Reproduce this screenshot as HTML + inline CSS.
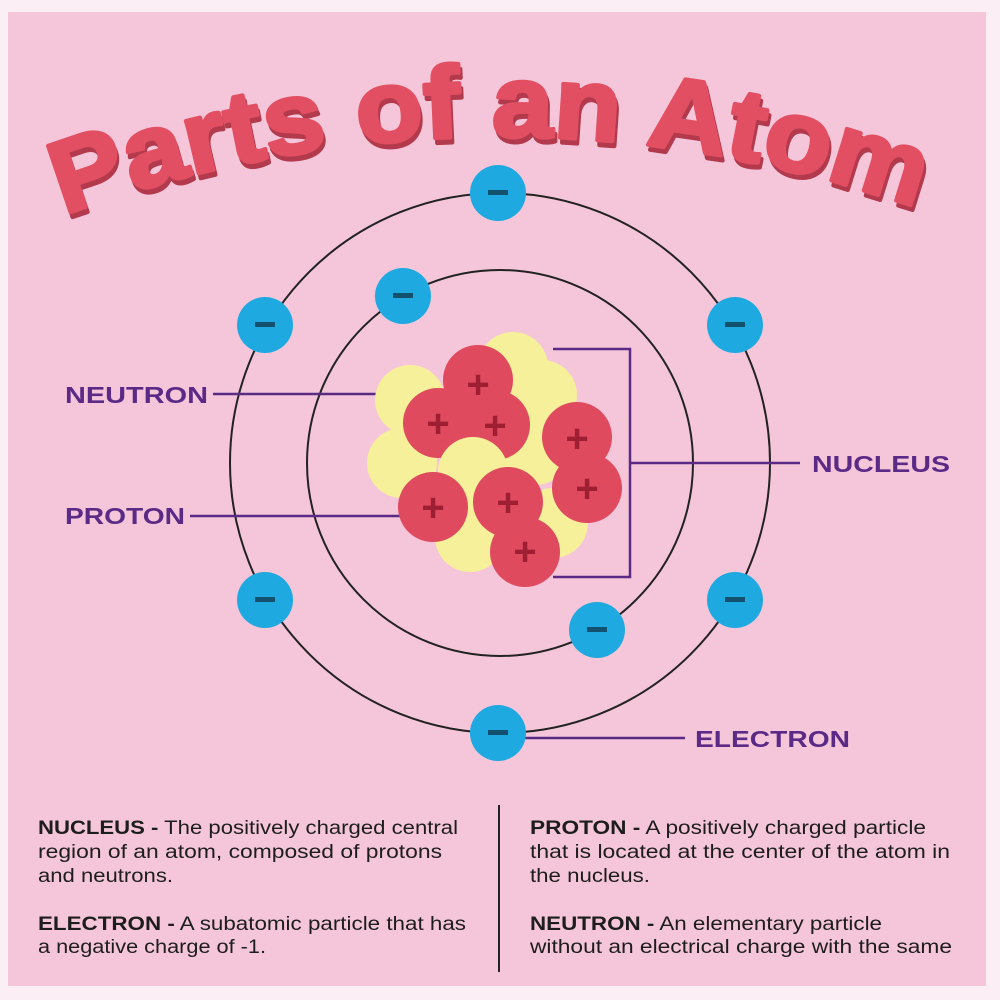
<!DOCTYPE html>
<html><head><meta charset="utf-8"><style>html,body{margin:0;padding:0;background:#fff}svg{display:block}</style></head>
<body>
<svg width="1000" height="1000" viewBox="0 0 1000 1000" xmlns="http://www.w3.org/2000/svg">
<rect x="0" y="0" width="1000" height="1000" fill="#fbeef4"/>
<rect x="8" y="12" width="978" height="974" fill="#f5c6da"/>
<defs>
<path id="arc" d="M 64 215 A 1250 1250 0 0 1 936 215"/>
</defs>
<text font-family="Liberation Sans, sans-serif" font-weight="bold" font-size="102" fill="#b23a4c" stroke="#b23a4c" stroke-width="4" stroke-linejoin="round" transform="translate(2,5)"><textPath href="#arc" startOffset="0" textLength="870" lengthAdjust="spacingAndGlyphs">Parts of an Atom</textPath></text>
<text font-family="Liberation Sans, sans-serif" font-weight="bold" font-size="102" fill="#e24f62" stroke="#e24f62" stroke-width="4" stroke-linejoin="round"><textPath href="#arc" startOffset="0" textLength="870" lengthAdjust="spacingAndGlyphs">Parts of an Atom</textPath></text>

<circle cx="500" cy="463" r="270" fill="none" stroke="#222" stroke-width="2"/>
<circle cx="500" cy="463" r="193" fill="none" stroke="#222" stroke-width="2"/>

<g stroke="#5b2a86" stroke-width="2.5" fill="none">
<polyline points="553,349 630,349 630,577 553,577"/>
<line x1="630" y1="463" x2="800" y2="463"/>
<line x1="213" y1="394" x2="397" y2="394"/>
<line x1="190" y1="516" x2="415" y2="516"/>
<line x1="498" y1="738" x2="685" y2="738"/>
</g>

<g>
<g fill="#f7f09a">
<circle cx="513" cy="367" r="35"/>
<circle cx="410" cy="400" r="35"/>
<circle cx="542" cy="395" r="35"/>
<circle cx="402" cy="463" r="35"/>
<circle cx="535" cy="450" r="35"/>
<circle cx="553" cy="523" r="35"/>
<circle cx="470" cy="537" r="35"/>
</g>
<g fill="#e04a5e">
<circle cx="478" cy="380" r="35"/>
<circle cx="577" cy="437" r="35"/>
<circle cx="438" cy="423" r="35"/>
<circle cx="495" cy="425" r="35"/>
</g>
<circle cx="473" cy="472" r="35" fill="#f7f09a"/>
<g fill="#e04a5e">
<circle cx="525" cy="552" r="35"/>
<circle cx="433" cy="507" r="35"/>
<circle cx="508" cy="502" r="35"/>
<circle cx="587" cy="488" r="35"/>
</g>
<g fill="#9e1f33" font-family="Liberation Sans, sans-serif" font-weight="bold" font-size="40" text-anchor="middle">
<text x="478" y="398">+</text>
<text x="438" y="437">+</text>
<text x="495" y="439">+</text>
<text x="577" y="452">+</text>
<text x="433" y="521">+</text>
<text x="508" y="516">+</text>
<text x="587" y="502">+</text>
<text x="525" y="565">+</text>
</g>
</g>

<g>
<g fill="#1ea9e1">
<circle cx="498" cy="193" r="28"/>
<circle cx="265" cy="325" r="28"/>
<circle cx="735" cy="325" r="28"/>
<circle cx="265" cy="600" r="28"/>
<circle cx="735" cy="600" r="28"/>
<circle cx="498" cy="733" r="28"/>
<circle cx="403" cy="296" r="28"/>
<circle cx="597" cy="630" r="28"/>
</g>
<g fill="#12526e">
<rect x="488" y="190" width="20" height="5"/>
<rect x="255" y="322" width="20" height="5"/>
<rect x="725" y="322" width="20" height="5"/>
<rect x="255" y="597" width="20" height="5"/>
<rect x="725" y="597" width="20" height="5"/>
<rect x="488" y="730" width="20" height="5"/>
<rect x="393" y="293" width="20" height="5"/>
<rect x="587" y="627" width="20" height="5"/>
</g>
</g>

<g fill="#5b2a86" font-family="Liberation Sans, sans-serif" font-weight="bold" font-size="23">
<text x="65" y="403" textLength="143" lengthAdjust="spacingAndGlyphs">NEUTRON</text>
<text x="65" y="524" textLength="120" lengthAdjust="spacingAndGlyphs">PROTON</text>
<text x="812" y="472" textLength="138" lengthAdjust="spacingAndGlyphs">NUCLEUS</text>
<text x="695" y="747" textLength="155" lengthAdjust="spacingAndGlyphs">ELECTRON</text>
</g>

<line x1="499" y1="805" x2="499" y2="972" stroke="#222" stroke-width="2"/>
<g fill="#1d1d1d" font-family="Liberation Sans, sans-serif" font-size="19">
<text x="38" y="834" textLength="420" lengthAdjust="spacingAndGlyphs"><tspan font-weight="bold">NUCLEUS -</tspan> The positively charged central</text>
<text x="38" y="858" textLength="404" lengthAdjust="spacingAndGlyphs">region of an atom, composed of protons</text>
<text x="38" y="882" textLength="135" lengthAdjust="spacingAndGlyphs">and neutrons.</text>
<text x="38" y="930" textLength="428" lengthAdjust="spacingAndGlyphs"><tspan font-weight="bold">ELECTRON -</tspan> A subatomic particle that has</text>
<text x="38" y="953" textLength="228" lengthAdjust="spacingAndGlyphs">a negative charge of -1.</text>
<text x="530" y="834" textLength="396" lengthAdjust="spacingAndGlyphs"><tspan font-weight="bold">PROTON -</tspan> A positively charged particle</text>
<text x="530" y="858" textLength="420" lengthAdjust="spacingAndGlyphs">that is located at the center of the atom in</text>
<text x="530" y="882" textLength="120" lengthAdjust="spacingAndGlyphs">the nucleus.</text>
<text x="530" y="930" textLength="352" lengthAdjust="spacingAndGlyphs"><tspan font-weight="bold">NEUTRON -</tspan> An elementary particle</text>
<text x="530" y="953" textLength="422" lengthAdjust="spacingAndGlyphs">without an electrical charge with the same</text>
</g>
</svg>
</body></html>
